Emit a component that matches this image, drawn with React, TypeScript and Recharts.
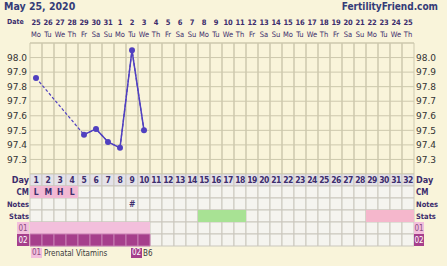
import React from "react";
import { ComposedChart, Line, Scatter, XAxis, YAxis, CartesianGrid, ReferenceArea } from "recharts";

const dateLabels = ["25", "26", "27", "28", "29", "30", "31", "1", "2", "3", "4", "5", "6", "7", "8", "9",
  "10", "11", "12", "13", "14", "15", "16", "17", "18", "19", "20", "21", "22", "23", "24", "25"];
const weekdays = ["Mo", "Tu", "We", "Th", "Fr", "Sa", "Su", "Mo", "Tu", "We", "Th", "Fr", "Sa", "Su", "Mo", "Tu",
  "We", "Th", "Fr", "Sa", "Su", "Mo", "Tu", "We", "Th", "Fr", "Sa", "Su", "Mo", "Tu", "We", "Th"];
const cycleDays = [1, 2, 3, 4, 5, 6, 7, 8, 9, 10, 11, 12, 13, 14, 15, 16,
  17, 18, 19, 20, 21, 22, 23, 24, 25, 26, 27, 28, 29, 30, 31, 32];
const temps: (number | null)[] = [97.86, null, null, null, 97.47, 97.51, 97.42, 97.38, 98.05, 97.5,
  null, null, null, null, null, null, null, null, null, null, null, null, null, null, null, null,
  null, null, null, null, null, null];
const tempTicks = [97.3, 97.4, 97.5, 97.6, 97.7, 97.8, 97.9, 98.0];

const rowLabels = ["Day", "CM", "Notes", "Stats", "01", "02"];
const cmDays = [1, 2, 3, 4];
const cmValues = ["L", "M", "H", "L"];
const noteDays = [9];
const noteValues = ["#"];
const statsGreenDays = [15, 16, 17, 18];
const statsPinkDays = [29, 30, 31, 32];
const med01Days = [1, 2, 3, 4, 5, 6, 7, 8, 9, 10];
const med02Days = [1, 2, 3, 4, 5, 6, 7, 8, 9, 10];
const medNames = ["Prenatal Vitamins", "B6"];

const BG = "#f9f4da";
const INK = "#3c2d6c";
const LINE = "#5040c0";
const GRID = "#cdc8ad";
const CELL = "#f5f4ef";
const CELL_LINE = "#cac7bd";
const PINK = "#f3bfdc";
const MAGENTA = "#a63f8c";
const FONT = "'DejaVu Sans', sans-serif";
const COND = "'DejaVu Sans Condensed', 'DejaVu Sans', sans-serif";

const data = cycleDays.map((day, i) => ({ day, temp: temps[i] }));

// text marks for the table rows
const dayMarks = cycleDays.map((d) => ({ day: d, row: 0.5, text: String(d), size: 8.5 }));
const cmMarks = cmDays.map((d, i) => ({ day: d, row: 1.5, text: cmValues[i], size: 8.5 }));
const noteMarks = noteDays.map((d, i) => ({ day: d, row: 2.5, text: noteValues[i], size: 8.5 }));

function DateTick(props: any) {
  const { x, y, payload } = props;
  const i = payload.value - 1;
  return (
    <g>
      <text x={x} y={y - 18} textAnchor="middle" fontFamily={COND} fontWeight="bold" fontSize={7.5}
        letterSpacing={-0.3} fill={INK}>
        {dateLabels[i]}
      </text>
      <text x={x} y={y - 6} textAnchor="middle" fontFamily={COND} fontSize={7.5} fill={INK}>
        {weekdays[i]}
      </text>
    </g>
  );
}

function RowTick(props: any) {
  const { x, y, payload, side } = props;
  const idx = Math.floor(payload.value);
  const label = rowLabels[idx];
  const left = side === "left";
  const sizes = [9, 8, 7.5, 7.5];
  if (idx >= 4) {
    const w = left ? 12 : 10;
    const bx = left ? 17 : x - 2;
    return (
      <g>
        <rect x={bx} y={y - 6} width={w} height={12} fill={idx === 4 ? PINK : MAGENTA} />
        <text x={bx + w / 2} y={y + 3} textAnchor="middle" fontFamily={COND} fontSize={8}
          fill={idx === 4 ? "#8a4d80" : "#ffffff"}>{label}</text>
      </g>
    );
  }
  return (
    <text x={x} y={y + 3} textAnchor={left ? "end" : "start"} fontFamily={COND} fontWeight="bold"
      fontSize={sizes[idx]} fill={INK}>
      {label}
    </text>
  );
}

function TextMark(props: any) {
  const { cx, cy, payload } = props;
  return (
    <text x={cx} y={cy + 3.2} textAnchor="middle" fontFamily={COND} fontWeight="bold"
      fontSize={payload.size} letterSpacing={-0.5} fill={INK}>
      {payload.text}
    </text>
  );
}

function TempChart() {
  return (
    <ComposedChart width={447} height={176} data={data} margin={{ top: 0, right: 0, bottom: 2, left: 0 }}>
      <XAxis xAxisId="d" dataKey="day" type="number" domain={[0.5, 32.5]} ticks={cycleDays} interval={0}
        orientation="top" height={43} tickSize={0} tickMargin={0} axisLine={false} tickLine={false}
        tick={<DateTick />} />
      <YAxis yAxisId="l" type="number" domain={[97.2, 98.1]} ticks={tempTicks} allowDataOverflow width={30}
        axisLine={false} tickLine={false} tickSize={0} tickMargin={3} interval={0}
        tickFormatter={(v: number) => v.toFixed(1)}
        tick={{ fontSize: 9, fill: "#333", fontFamily: FONT }} />
      <YAxis yAxisId="r" orientation="right" type="number" domain={[97.2, 98.1]} ticks={tempTicks}
        allowDataOverflow width={33} axisLine={false} tickLine={false} tickSize={0} tickMargin={2} interval={0}
        tickFormatter={(v: number) => v.toFixed(1)}
        tick={{ fontSize: 9, fill: "#333", fontFamily: FONT }} />
      <CartesianGrid xAxisId="d" yAxisId="l" vertical={false} stroke={GRID} />
      {cycleDays.map((d) => (
        <ReferenceArea key={d} xAxisId="d" yAxisId="l" x1={d - 0.5} x2={d + 0.5} y1={97.2} y2={98.1}
          fill="none" stroke={GRID} fillOpacity={0} />
      ))}
      <Line xAxisId="d" yAxisId="l" dataKey="temp" connectNulls stroke={LINE} strokeWidth={1.2}
        strokeDasharray="3 2" dot={false} activeDot={false} isAnimationActive={false} />
      <Line xAxisId="d" yAxisId="l" dataKey="temp" stroke={LINE} strokeWidth={1.5}
        dot={{ r: 3, fill: LINE, stroke: LINE, strokeWidth: 0 }} activeDot={false} isAnimationActive={false} />
    </ComposedChart>
  );
}

function TableChart() {
  const rowTicks = rowLabels.map((_, i) => i + 0.5);
  const area = (key: string, d1: number, d2: number, row: number, fill: string, stroke?: string) => (
    <ReferenceArea key={key} xAxisId="d" yAxisId="l" x1={d1 - 0.5} x2={d2 + 0.5} y1={row} y2={row + 1}
      fill={fill} fillOpacity={1} stroke={stroke} strokeWidth={1} />
  );
  return (
    <ComposedChart width={447} height={74} data={dayMarks} margin={{ top: 0, right: 0, bottom: 2, left: 0 }}>
      <XAxis xAxisId="d" dataKey="day" type="number" domain={[0.5, 32.5]} allowDataOverflow hide />
      <YAxis yAxisId="l" type="number" domain={[0, 6]} allowDataOverflow reversed ticks={rowTicks} interval={0}
        width={30} axisLine={false} tickLine={false} tickSize={0} tickMargin={1}
        tick={<RowTick side="left" />} />
      <YAxis yAxisId="r" orientation="right" type="number" domain={[0, 6]} allowDataOverflow reversed
        ticks={rowTicks} interval={0} width={33} axisLine={false} tickLine={false} tickSize={0} tickMargin={2}
        tick={<RowTick side="right" />} />
      {rowLabels.map((_, r) =>
        cycleDays.map((d) => area(`c${r}-${d}`, d, d, r, r === 0 ? "#e4e2e9" : CELL, CELL_LINE))
      )}
      {area("cm", cmDays[0], cmDays[cmDays.length - 1], 1, "#f2b9d4")}
      {area("sg", statsGreenDays[0], statsGreenDays[statsGreenDays.length - 1], 3, "#a8e294")}
      {area("sp", statsPinkDays[0], statsPinkDays[statsPinkDays.length - 1], 3, "#f5b7cc")}
      {area("m1", med01Days[0], med01Days[med01Days.length - 1], 4, PINK)}
      {med02Days.map((d) => area(`m2${d}`, d, d, 5, MAGENTA, "#c77fb2"))}
      <Scatter xAxisId="d" yAxisId="l" data={[...dayMarks, ...cmMarks, ...noteMarks]} dataKey="row"
        shape={<TextMark />} isAnimationActive={false} />
      <Scatter xAxisId="d" yAxisId="r" data={dayMarks} dataKey="row" shape={() => <g />}
        isAnimationActive={false} />
    </ComposedChart>
  );
}

export default function App() {
  return (
    <div style={{ position: "absolute", left: 0, top: 0, width: 447, height: 266, background: BG, overflow: "hidden" }}>
      <div style={{ position: "absolute", left: 4, top: 0, fontFamily: COND, fontWeight: "bold", fontSize: 10.5, color: "#343c78" }}>
        May 25, 2020
      </div>
      <div style={{ position: "absolute", right: 9, top: 1, fontFamily: COND, fontWeight: "bold", fontSize: 10, color: "#343c78" }}>
        FertilityFriend.com
      </div>
      <div style={{ position: "absolute", left: 7, top: 18, fontFamily: COND, fontWeight: "bold", fontSize: 7, color: INK }}>
        Date
      </div>
      <div style={{ position: "absolute", left: 0, top: 0 }}>
        <TempChart />
      </div>
      <div style={{ position: "absolute", left: 0, top: 174 }}>
        <TableChart />
      </div>
      <div style={{ position: "absolute", left: 31, top: 248, display: "flex", alignItems: "center", fontFamily: COND, fontSize: 8, color: "#3a3a3a" }}>
        <span style={{ background: PINK, color: "#8a4d80", width: 11, height: 10, lineHeight: "10px", textAlign: "center" }}>01</span>
        <span style={{ marginLeft: 2, width: 87 }}>{medNames[0]}</span>
        <span style={{ background: MAGENTA, color: "#fff", width: 11, height: 10, lineHeight: "10px", textAlign: "center" }}>02</span>
        <span style={{ marginLeft: 1 }}>{medNames[1]}</span>
      </div>
    </div>
  );
}
